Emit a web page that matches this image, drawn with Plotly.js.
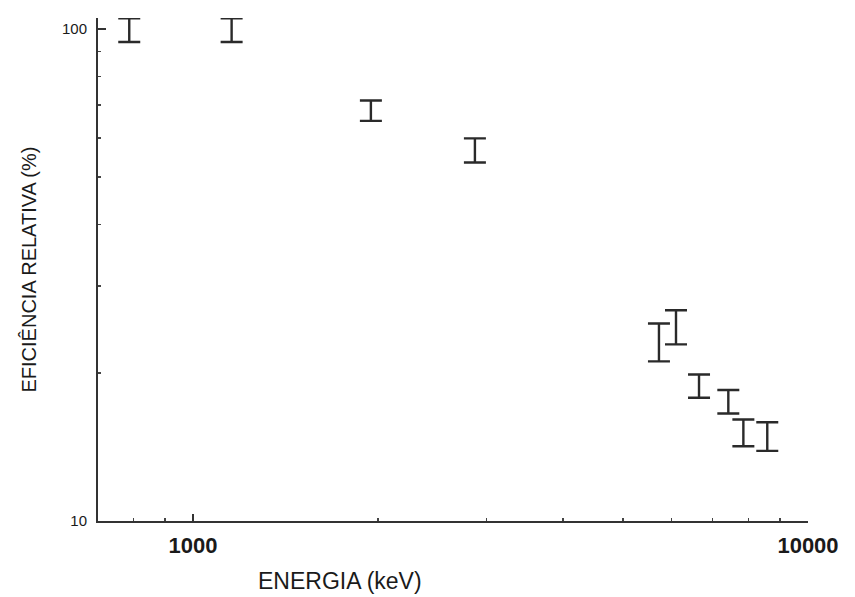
<!DOCTYPE html>
<html>
<head>
<meta charset="utf-8">
<script src="https://cdn.plot.ly/plotly-3.0.1.min.js"></script>
<style>html,body{margin:0;padding:0;background:#fff;}#chart{width:855px;height:597px;}</style>
</head>
<body>
<div id="chart"></div>
<script>
// Energy (keV)
const energy = [788, 1156, 1947, 2874, 5724, 6101, 6650, 7421, 7851, 8586];
// Relative efficiency (%)
const efficiency = [99.4, 99.4, 68.2, 56.6, 23.1, 24.75, 18.8, 17.46, 15.1, 14.85];
// Error above / below
const errPlus  = [5.7, 5.7, 3.3, 3.3, 2.1, 2.05, 1.05, 1.0, 0.98, 1.02];
const errMinus = [5.4, 5.4, 3.2, 3.1, 2.0, 1.9, 1.0, 0.92, 0.91, 0.97];

const xTickVals = [1000, 10000];
const xTickText = ['1000', '10000'];
const xMinorVals = [800, 900, 2000, 3000, 4000, 5000, 6000, 7000, 8000, 9000];
const yTickVals = [10, 100];
const yTickText = ['10', '100'];
const yMinorVals = [20, 30, 40, 50, 60, 70, 80, 90];

const FONT = '"Liberation Sans", Arial, Helvetica, sans-serif';

const trace = {
  x: energy,
  y: efficiency,
  type: 'scatter',
  mode: 'markers',
  marker: {size: 2, opacity: 0},
  cliponaxis: false,
  hoverinfo: 'x+y',
  error_y: {
    type: 'data',
    symmetric: false,
    array: errPlus,
    arrayminus: errMinus,
    color: '#2a2a2a',
    thickness: 2.4,
    width: 11
  },
  showlegend: false
};

const layout = {
  width: 855,
  height: 597,
  margin: {l: 98, r: 47, t: 18, b: 76},
  paper_bgcolor: '#ffffff',
  plot_bgcolor: '#ffffff',
  font: {family: FONT, color: '#1a1a1a'},
  xaxis: {
    type: 'log',
    range: [Math.log10(701), 4],
    showgrid: false,
    zeroline: false,
    showline: true,
    linecolor: '#333',
    linewidth: 2,
    ticks: 'inside',
    ticklen: 7,
    tickwidth: 1.5,
    tickcolor: '#333',
    tickmode: 'array',
    tickvals: xTickVals,
    ticktext: xTickText,
    tickfont: {family: FONT, size: 22, color: '#1a1a1a', weight: 'bold'},
    ticklabelstandoff: 4,
    minor: {tickmode: 'array', tickvals: xMinorVals, ticks: 'inside', ticklen: 3, tickwidth: 1.5, tickcolor: '#444', showgrid: false}
  },
  yaxis: {
    type: 'log',
    range: [1, 2.022],
    showgrid: false,
    zeroline: false,
    showline: true,
    linecolor: '#333',
    linewidth: 2,
    ticks: 'inside',
    ticklen: 8,
    tickwidth: 1.5,
    tickcolor: '#333',
    tickmode: 'array',
    tickvals: yTickVals,
    ticktext: yTickText,
    tickfont: {family: FONT, size: 15, color: '#1a1a1a'},
    ticklabelstandoff: 6,
    minor: {tickmode: 'array', tickvals: yMinorVals, ticks: 'inside', ticklen: 3, tickwidth: 1.5, tickcolor: '#444', showgrid: false}
  },
  annotations: [
    {
      text: 'ENERGIA (keV)',
      xref: 'paper', yref: 'paper',
      x: 0.341, y: 0,
      xanchor: 'center', yanchor: 'middle',
      yshift: -60,
      showarrow: false,
      font: {family: FONT, size: 23, color: '#1a1a1a'}
    },
    {
      text: 'EFICIÊNCIA RELATIVA (%)',
      xref: 'paper', yref: 'paper',
      x: 0, y: 0.5,
      xanchor: 'center', yanchor: 'middle',
      xshift: -70,
      textangle: -90,
      showarrow: false,
      font: {family: FONT, size: 20, color: '#1a1a1a'}
    }
  ]
};

Plotly.newPlot('chart', [trace], layout, {displayModeBar: false, staticPlot: true});
</script>
</body>
</html>
